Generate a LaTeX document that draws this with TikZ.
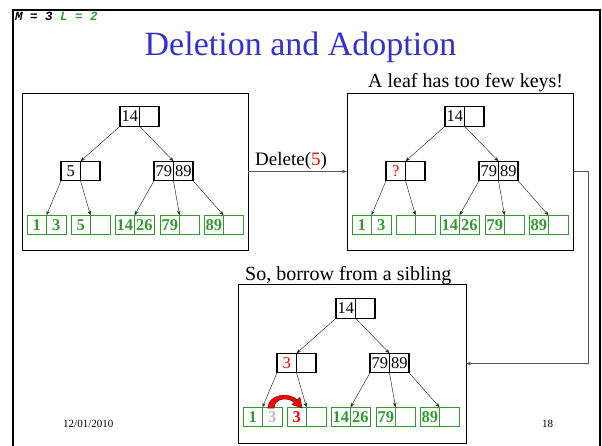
\documentclass[tikz,border=0pt]{standalone}
\usepackage{fontspec}
\setmainfont{Liberation Serif}
\setmonofont{Liberation Mono}
\usetikzlibrary{arrows.meta}
\definecolor{titleblue}{RGB}{51,51,204}
\definecolor{leafgreen}{RGB}{51,153,51}
\definecolor{linegray}{RGB}{85,85,85}
\definecolor{ghost}{RGB}{190,190,190}
\tikzset{
  innercell/.style={draw=black, line width=1.2pt, minimum width=19.5pt, minimum height=19.5pt,
    inner sep=0pt, outer sep=0pt, font=\fontsize{16.5}{18}\selectfont},
  leafcell/.style={draw=leafgreen, line width=0.9pt, minimum width=19.5pt, minimum height=19.5pt,
    inner sep=0pt, outer sep=0pt, text=leafgreen, font=\fontsize{16.5}{18}\selectfont\bfseries},
  ptr/.style={draw=black!85, line width=0.45pt, -{Stealth[length=4.5pt,width=3.5pt]}},
  panel/.style={draw=black, line width=0.8pt, inner sep=0pt, outer sep=0pt},
  link/.style={draw=linegray, line width=0.7pt},
  linkarrow/.style={link, -{Stealth[length=5pt,width=3.5pt]}},
}
% #1 prefix, #2 shift, #3 mid-left key, #4 leaf1 second key, #5 leaf2 first key
\newcommand{\btree}[5]{%
\begin{scope}[shift={#2}]
  \node[innercell] (#1r1) at (129.75,116.5) {14};
  \node[innercell] (#1r2) at (149.25,116.5) {};
  \node[innercell] (#1a1) at (70.75,171) {#3};
  \node[innercell] (#1a2) at (90.25,171) {};
  \node[innercell] (#1b1) at (163.75,171) {79};
  \node[innercell] (#1b2) at (183.25,171) {89};
  \node[leafcell] (#1l1a) at (36.75,225) {1};
  \node[leafcell] (#1l1b) at (56.25,225) {#4};
  \node[leafcell] (#1l2a) at (80.75,225) {#5};
  \node[leafcell] (#1l2b) at (100.25,225) {};
  \node[leafcell] (#1l3a) at (124.75,225) {14};
  \node[leafcell] (#1l3b) at (144.25,225) {26};
  \node[leafcell] (#1l4a) at (169.75,225) {79};
  \node[leafcell] (#1l4b) at (189.25,225) {};
  \node[leafcell] (#1l5a) at (213.75,225) {89};
  \node[leafcell] (#1l5b) at (233.25,225) {};
  \draw[ptr] (#1r1.south west) -- (#1a1.north east);
  \draw[ptr] (#1r1.south east) -- (#1b1.north east);
  \draw[ptr] (#1a1.south west) -- (#1l1a.north east);
  \draw[ptr] (#1a1.south east) -- (#1l2a.north east);
  \draw[ptr] (#1b1.south west) -- (#1l3a.north east);
  \draw[ptr] (#1b1.south east) -- (#1l4a.north east);
  \draw[ptr] (#1b2.south east) -- (#1l5a.north east);
\end{scope}}
\begin{document}
\begin{tikzpicture}[x=1pt,y=-1pt]
\useasboundingbox (0,0) rectangle (602,446);
\fill[white] (0,0) rectangle (602,446);
% slide frame
\draw[line width=2pt] (13,450) -- (13,10) -- (600,10) -- (600,450);
% header
\node[anchor=base west, inner sep=0pt, font=\fontsize{12.5}{14}\selectfont\ttfamily\bfseries\itshape]
  (ml) at (15,21) {M = 3 \textcolor{leafgreen}{L = 2}};
\node[anchor=base, inner sep=0pt, text=titleblue, font=\fontsize{34}{40}\selectfont]
  (title) at (300.5,56) {Deletion and Adoption};
% panels
\node[panel, minimum width=226pt, minimum height=157pt] (L) at (135,171.5) {};
\node[panel, minimum width=226pt, minimum height=157pt] (R) at (460,171.5) {};
\node[panel, minimum width=228pt, minimum height=159pt] (B) at (352,363.5) {};
% labels
\node[anchor=base west, inner sep=0pt, font=\fontsize{20}{24}\selectfont] (lab1) at (368,88) {A leaf has too few keys!};
\node[anchor=base west, inner sep=0pt, font=\fontsize{20}{24}\selectfont] (lab2) at (245,280) {So, borrow from a sibling};
\node[anchor=base west, inner sep=0pt, font=\fontsize{19}{22}\selectfont] (del) at (255,166) {Delete(\textcolor{red}{5})};
% trees
\btree{A}{(0,0)}{5}{3}{5}
\btree{C}{(325,0)}{\textcolor{red}{?}}{3}{}
\btree{D}{(216,192)}{\textcolor{red}{3}}{\textcolor{ghost}{3}}{\textcolor{red}{3}}
% connectors between panels
\draw[linkarrow] (L.east) -- (R.west);
\coordinate (turn) at ([xshift=15pt]R.east);
\draw[linkarrow] (R.east) -- (turn) |- (B.east);
% borrow arrow
\filldraw[fill=red, draw=red!55!black, line width=0.6pt]
  (268,408) .. controls (268,394) and (290,392) .. (297,400) -- (300,397.5) -- (302,408)
  -- (292,404.5) -- (294.5,402.5) .. controls (288,396.5) and (274,398) .. (274,408) -- cycle;
% footer
\node[anchor=base west, inner sep=0pt, font=\fontsize{11}{13}\selectfont] (date) at (63,427) {12/01/2010};
\node[anchor=base west, inner sep=0pt, font=\fontsize{11}{13}\selectfont] (page) at (542,427) {18};
\end{tikzpicture}
\end{document}
